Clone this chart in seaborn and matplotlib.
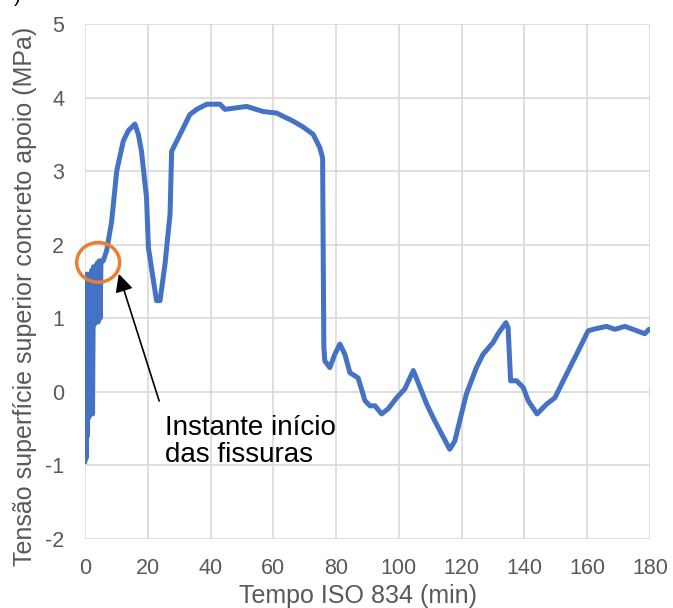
import matplotlib
matplotlib.use("Agg")
import matplotlib.pyplot as plt
from matplotlib.patches import Ellipse
import seaborn as sns
import pandas as pd

sns.set_theme(style="whitegrid")
plt.rcParams["font.family"] = ["Liberation Sans", "DejaVu Sans"]
plt.rcParams["axes.unicode_minus"] = False

# --- Daten ---
tempo_min = [
    0.0, 0.2, 0.4, 0.6, 0.8, 1.0, 1.2, 1.5, 1.8, 2.1, 2.4, 2.7, 3.0, 3.3, 3.6,
    3.9, 4.2, 4.5, 4.8, 5.1,
    5.8, 6.9, 8.5, 10.1, 12.2, 13.8, 15.9, 17.0, 18.0, 19.6, 20.2, 21.8, 22.8,
    23.9, 25.5, 27.1, 27.6, 30.3, 33.4, 35.6, 38.8, 43.0, 44.6, 51.5, 56.8,
    61.0, 66.3, 69.5, 72.7, 74.8, 75.7, 75.9, 76.1, 76.4, 78.0, 79.6, 81.2,
    82.8, 84.4, 87.0, 89.2, 90.8, 92.4, 94.5, 96.6, 99.3, 101.9, 104.6, 108.8,
    110.9, 113.1, 116.2, 117.8, 121.5, 124.7, 126.8, 130.0, 131.6, 134.1,
    134.8, 135.6, 137.5, 139.6, 141.2, 144.0, 147.0, 149.7, 153.4, 156.6,
    160.3, 161.9, 166.1, 168.8, 172.0, 174.6, 178.3, 179.7,
]
tensao_mpa = [
    -0.95, 1.5, -0.9, 1.6, -0.6, 1.55, -0.35, 1.6, -0.3, 1.65, -0.3, 1.7, 0.92, 1.7, 0.95,
    1.75, 0.95, 1.78, 1.0, 1.78,
    1.78, 1.92, 2.32, 3.0, 3.41, 3.55, 3.64, 3.5, 3.27, 2.64, 1.96, 1.51, 1.24,
    1.24, 1.74, 2.42, 3.27, 3.5, 3.77, 3.84, 3.91, 3.91, 3.84, 3.88, 3.81,
    3.79, 3.68, 3.6, 3.5, 3.32, 3.18, 1.82, 0.6, 0.42, 0.33, 0.51, 0.65,
    0.51, 0.26, 0.19, -0.12, -0.19, -0.19, -0.3, -0.23, -0.08, 0.04, 0.29, -0.16,
    -0.35, -0.53, -0.78, -0.67, -0.03, 0.33, 0.51, 0.67, 0.79, 0.94,
    0.87, 0.15, 0.15, 0.06, -0.12, -0.3, -0.17, -0.08, 0.24, 0.51,
    0.83, 0.85, 0.89, 0.85, 0.89, 0.85, 0.79, 0.85,
]
x_ticks = list(range(0, 181, 20))
y_ticks = list(range(-2, 6))

df = pd.DataFrame({"tempo": tempo_min, "tensao": tensao_mpa})

# --- Diagramm ---
fig = plt.figure(figsize=(6.73, 6.08), dpi=100)
ax = fig.add_axes([0.1263, 0.1135, 0.8395, 0.847])

sns.lineplot(data=df, x="tempo", y="tensao", sort=False, estimator=None,
             color="#4472C4", linewidth=3.6, ax=ax)

ax.set_xlim(0, 180)
ax.set_ylim(-2, 5)
ax.set_xticks(x_ticks)
ax.set_yticks(y_ticks)
ax.grid(True, color="#D9D9D9", linewidth=1.2)
for s in ax.spines.values():
    s.set_visible(False)
ax.tick_params(axis="both", length=0, labelsize=15.5, labelcolor="#595959")
ax.tick_params(axis="y", pad=15)
ax.tick_params(axis="x", pad=14)
ax.set_xlabel("Tempo ISO 834 (min)", fontsize=18, color="#595959")
ax.set_ylabel("Tensão superfície superior concreto apoio (MPa)", fontsize=18,
              color="#595959")
ax.xaxis.set_label_coords(0.483, -0.088)
ax.yaxis.set_label_coords(-0.085, 0.471)

# Markierung Rissbeginn
ax.add_patch(Ellipse((4.2, 1.76), 13.7, 0.54, fill=False, edgecolor="#ED7D31",
                     linewidth=2.5, clip_on=False, zorder=5))
ax.annotate("", xy=(10.5, 1.64), xytext=(23.9, -0.16),
            arrowprops=dict(arrowstyle="-|>,head_length=0.9,head_width=0.45",
                            color="black", linewidth=1.2))
ax.text(25.5, -0.31, "Instante início\ndas fissuras", fontsize=20, color="black",
        va="top", ha="left", linespacing=1.05)

fig.text(0.02, 1.005, ")", fontsize=15, color="black", va="center")

fig.savefig("out.png", dpi=100)
